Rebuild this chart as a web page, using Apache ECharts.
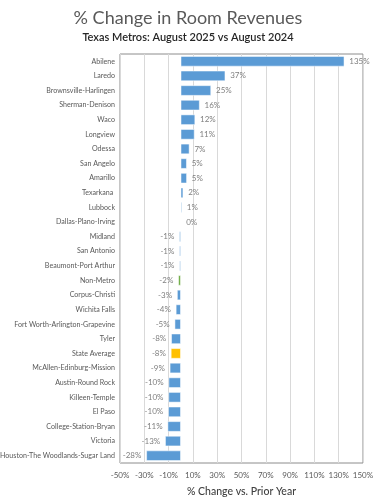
<!DOCTYPE html>
<html>
<head>
<meta charset="utf-8">
<script src="https://cdn.jsdelivr.net/npm/echarts@6/dist/echarts.min.js"></script>
<style>
  html, body { margin: 0; padding: 0; background: #fff; }
  #chart { width: 376px; height: 500px; }
</style>
</head>
<body>
<div id="chart"></div>
<script>
  // metros, top to bottom
  const metros = [
    'Abilene', 'Laredo', 'Brownsville-Harlingen', 'Sherman-Denison', 'Waco',
    'Longview', 'Odessa', 'San Angelo', 'Amarillo', 'Texarkana ', 'Lubbock',
    'Dallas-Plano-Irving', 'Midland', 'San Antonio', 'Beaumont-Port Arthur',
    'Non-Metro', 'Corpus-Christi', 'Wichita Falls', 'Fort Worth-Arlington-Grapevine',
    'Tyler', 'State Average', 'McAllen-Edinburg-Mission', 'Austin-Round Rock',
    'Killeen-Temple', 'El Paso', 'College-Station-Bryan', 'Victoria',
    'Houston-The Woodlands-Sugar Land'
  ];
  // % change in room revenues
  const pctChange = [
    134.6, 36.6, 24.9, 15.5, 11.8,
    11.3, 7.1, 4.9, 5.0, 2.0, 0.9,
    0.3, -1.2, -1.1, -1.0,
    -2.0, -3.0, -4.0, -5.0,
    -7.8, -8.1, -9.0, -10.0,
    -10.1, -10.3, -10.8, -12.8,
    -28.3
  ];
  const axisMin = -50;
  const axisMax = 150;
  const axisStep = 20;

  const blue = '#5b9bd5';
  const highlight = { 'Non-Metro': '#70ad47', 'State Average': '#ffc000' };
  const grey = '#595959';

  const chart = echarts.init(document.getElementById('chart'));
  chart.setOption({
    animation: false,
    textStyle: { fontFamily: 'Lato' },
    title: {
      text: '% Change in Room Revenues',
      subtext: 'Texas Metros: August 2025 vs August 2024',
      left: 'center',
      top: 4,
      itemGap: 5,
      textStyle: { fontSize: 18, fontWeight: 'normal', color: grey, fontFamily: 'Lato' },
      subtextStyle: { fontSize: 11, fontWeight: 600, color: '#262626', fontFamily: 'Lato' }
    },
    grid: {
      left: 120, right: 13, top: 54, bottom: 37,
      outerBoundsMode: 'none',
      containLabel: false,
      show: true, borderColor: '#8c8c8c', borderWidth: 1
    },
    xAxis: {
      type: 'value',
      min: axisMin, max: axisMax, interval: axisStep,
      name: '% Change vs. Prior Year',
      nameLocation: 'middle',
      nameGap: 23,
      nameTextStyle: { fontSize: 10.5, color: '#404040', fontWeight: 500 },
      axisLine: { show: false },
      axisTick: { show: false },
      axisLabel: {
        fontSize: 8, color: grey, margin: 8,
        showMinLabel: true, showMaxLabel: true, hideOverlap: false,
        formatter: v => v + '%'
      },
      splitLine: { lineStyle: { color: '#d9d9d9' } }
    },
    yAxis: {
      type: 'category',
      data: metros,
      inverse: true,
      axisLine: { show: false },
      axisTick: { show: false },
      axisLabel: { fontSize: 7.1, color: grey, margin: 5, interval: 0 }
    },
    series: [{
      type: 'bar',
      barCategoryGap: '30%',
      data: pctChange.map((v, i) => ({
        value: v,
        itemStyle: { color: highlight[metros[i]] || blue },
        label: { position: v < 0 ? 'left' : 'right' }
      })),
      itemStyle: { borderColor: '#fff', borderWidth: 0.5 },
      label: {
        show: true,
        fontSize: 8,
        color: '#7f7f7f',
        distance: 5,
        formatter: p => Math.round(p.value) + '%'
      }
    }]
  });
</script>
</body>
</html>
